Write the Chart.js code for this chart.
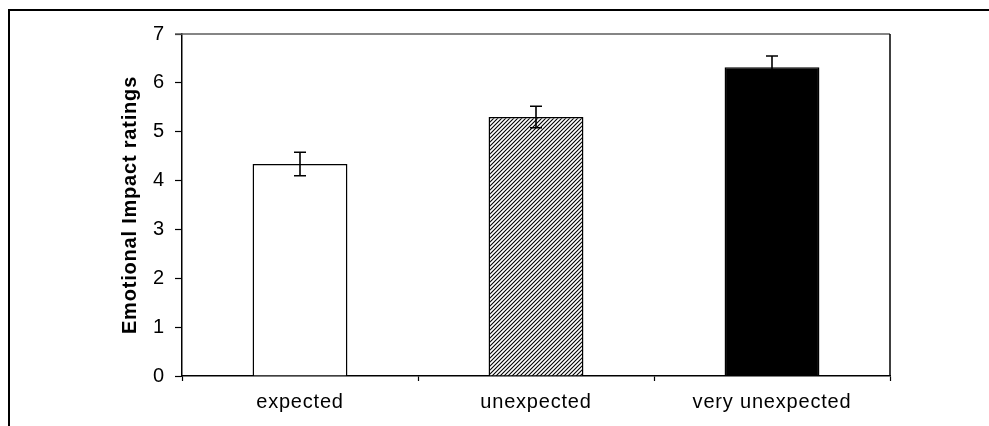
<!DOCTYPE html>
<html>
<head>
<meta charset="utf-8">
<script src="https://cdn.jsdelivr.net/npm/chart.js@4.4.0/dist/chart.umd.min.js"></script>
<style>
  html, body { margin: 0; padding: 0; background: #fff; }
  #wrap { position: relative; width: 989px; height: 426px; }
  #frame {
    position: absolute; left: 8px; top: 9px; right: 0; bottom: 0;
    border-top: 2px solid #000; border-left: 2px solid #000;
    pointer-events: none;
  }
</style>
</head>
<body>
<div id="wrap">
  <canvas id="impact" width="989" height="426"></canvas>
  <div id="frame"></div>
</div>
<script>
let categories = ["expected", "unexpected", "very unexpected"];
let meanRatings = [4.34, 5.30, 6.32];
let errorRatings = [0.24, 0.22, 0.23];
let yTickValues = [0, 1, 2, 3, 4, 5, 6, 7];

let canvas = document.querySelector("#impact");
let ctx = canvas.getContext("2d");

// diagonal hatch for the middle bar
let hatch = document.createElement("canvas");
hatch.width = 4;
hatch.height = 4;
let hctx = hatch.getContext("2d");
hctx.fillStyle = "#fff";
hctx.fillRect(0, 0, 4, 4);
hctx.strokeStyle = "#000";
hctx.lineWidth = 1.1;
hctx.beginPath();
hctx.moveTo(-1, 5); hctx.lineTo(5, -1);
hctx.moveTo(-1, 1); hctx.lineTo(1, -1);
hctx.moveTo(3, 5); hctx.lineTo(5, 3);
hctx.stroke();
let hatchPattern = ctx.createPattern(hatch, "repeat");

let fontFamily = "'Liberation Sans', Arial, sans-serif";

let spacing = {
  id: "spacing",
  beforeDraw(chart) {
    chart.ctx.letterSpacing = "0.8px";
  },
};

let errorBars = {
  id: "errorBars",
  afterDatasetsDraw(chart) {
    let c = chart.ctx;
    let meta = chart.getDatasetMeta(0);
    let y = chart.scales.y;
    c.save();
    c.strokeStyle = "#000";
    c.lineWidth = 1.6;
    meta.data.forEach((bar, i) => {
      let x = bar.x;
      let top = y.getPixelForValue(meanRatings[i] + errorRatings[i]);
      let bottom = y.getPixelForValue(meanRatings[i] - errorRatings[i]);
      c.beginPath();
      c.moveTo(x, top); c.lineTo(x, bottom);
      c.moveTo(x - 6, top); c.lineTo(x + 6, top);
      c.moveTo(x - 6, bottom); c.lineTo(x + 6, bottom);
      c.stroke();
    });
    // plot frame: grey top, black right
    let a = chart.chartArea;
    c.lineWidth = 1.5;
    c.strokeStyle = "#5c5c5c";
    c.beginPath();
    c.moveTo(a.left - 7, a.top); c.lineTo(a.right, a.top);
    c.stroke();
    c.strokeStyle = "#000";
    c.beginPath();
    c.moveTo(a.right, a.top); c.lineTo(a.right, a.bottom);
    c.stroke();
    c.restore();
  },
};

let impactChart = new Chart(ctx, {
  type: "bar",
  data: {
    labels: categories,
    datasets: [
      {
        data: meanRatings,
        backgroundColor: ["#fff", hatchPattern, "#000"],
        borderColor: "#000",
        borderWidth: 1.5,
        categoryPercentage: 1,
        barPercentage: 0.402,
      },
    ],
  },
  options: {
    responsive: false,
    animation: false,
    devicePixelRatio: 1,
    layout: {
      padding: { top: 34, right: 99, left: 0, bottom: 0 },
    },
    plugins: {
      legend: { display: false },
      tooltip: { enabled: false },
    },
    scales: {
      x: {
        afterFit: (scale) => {
          scale.height = 50;
          scale.paddingLeft = 0;
          scale.paddingRight = 0;
        },
        grid: {
          offset: true,
          drawOnChartArea: false,
          tickLength: 5,
          tickColor: "#000",
          tickWidth: 1.2,
        },
        border: { color: "#000", width: 1.5 },
        ticks: {
          color: "#000",
          padding: 9,
          font: { family: fontFamily, size: 20 },
        },
      },
      y: {
        min: 0,
        max: 7,
        afterFit: (scale) => {
          scale.width = 182;
          scale.paddingTop = 0;
          scale.paddingBottom = 0;
        },
        afterBuildTicks: (scale) => {
          scale.ticks = yTickValues.map((v) => ({ value: v }));
        },
        grid: {
          drawOnChartArea: false,
          tickLength: 7,
          tickColor: "#000",
          tickWidth: 1.2,
        },
        border: { color: "#000", width: 1.5 },
        ticks: {
          color: "#000",
          padding: 10,
          font: { family: fontFamily, size: 20 },
        },
        title: {
          display: true,
          text: "Emotional Impact ratings",
          color: "#000",
          padding: { top: 118, bottom: 0 },
          font: { family: fontFamily, size: 20, weight: "bold" },
        },
      },
    },
  },
  plugins: [spacing, errorBars],
});
</script>
</body>
</html>
